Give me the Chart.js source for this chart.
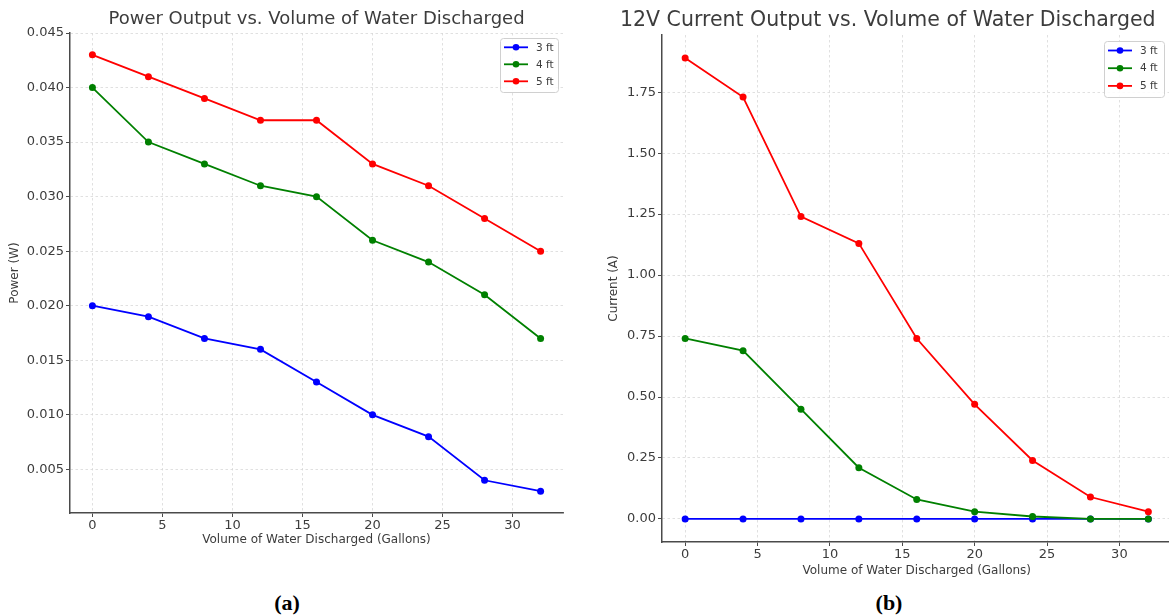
<!DOCTYPE html>
<html>
<head>
<meta charset="utf-8">
<script src="https://cdn.jsdelivr.net/npm/chart.js@4.4.0/dist/chart.umd.min.js"></script>
<style>
  html, body { margin: 0; padding: 0; background: #fff; overflow: hidden; width: 1169px; height: 616px; }
  .wrap { position: absolute; top: 0; }
  .cap { position: absolute; top: 590px; font-family: "Liberation Serif", "Times New Roman", serif; font-weight: bold; font-size: 22px; color: #000; transform: translateX(-50%); }
</style>
</head>
<body>
<div class="wrap" style="left:0px;width:633px;height:560px"><canvas id="powerChart"></canvas></div>
<div class="wrap" style="left:590px;width:596px;height:590px"><canvas id="currentChart"></canvas></div>
<div class="cap" style="left:287px">(a)</div>
<div class="cap" style="left:889px">(b)</div>
<script>
// gallons discharged
const gallons = [0, 4, 8, 12, 16, 20, 24, 28, 32];
const seriesLabels = ['3 ft', '4 ft', '5 ft'];
const seriesColors = ['#0000ff', '#008000', '#ff0000'];

// power (W)
const power3 = [0.020, 0.019, 0.017, 0.016, 0.013, 0.010, 0.008, 0.004, 0.003];
const power4 = [0.040, 0.035, 0.033, 0.031, 0.030, 0.026, 0.024, 0.021, 0.017];
const power5 = [0.043, 0.041, 0.039, 0.037, 0.037, 0.033, 0.031, 0.028, 0.025];

// 12V current (A)
const current3 = [0, 0, 0, 0, 0, 0, 0, 0, 0];
const current4 = [0.74, 0.69, 0.45, 0.21, 0.08, 0.03, 0.01, 0.00, 0.00];
const current5 = [1.89, 1.73, 1.24, 1.13, 0.74, 0.47, 0.24, 0.09, 0.03];

const xTicks = [0, 5, 10, 15, 20, 25, 30];
const powerTicks = [0.005, 0.010, 0.015, 0.020, 0.025, 0.030, 0.035, 0.040, 0.045];
const currentTicks = [0, 0.25, 0.5, 0.75, 1.0, 1.25, 1.5, 1.75];

const FONT = '"DejaVu Sans", sans-serif';
const TXT = '#3c3c3c';
const GRID = '#d8d8d8';
const AXIS = '#4a4a4a';

// little boxed legend drawn inside the plot, top right
const boxLegend = {
  id: 'boxLegend',
  afterDraw(chart, args, o) {
    const { ctx, chartArea } = chart;
    const w = o.width, h = o.height;
    const x0 = chartArea.right - o.insetX - w;
    const y0 = chartArea.top + o.insetY;
    ctx.save();
    ctx.fillStyle = 'rgba(255,255,255,0.85)';
    ctx.strokeStyle = '#d0d0d0';
    ctx.lineWidth = 1;
    ctx.beginPath();
    ctx.roundRect(x0 + 0.5, y0 + 0.5, w, h, 3);
    ctx.fill();
    ctx.stroke();
    ctx.font = '10.5px ' + FONT;
    ctx.textBaseline = 'middle';
    seriesLabels.forEach((lab, i) => {
      const y = y0 + o.first + i * o.row;
      ctx.strokeStyle = seriesColors[i];
      ctx.lineWidth = 1.8;
      ctx.beginPath();
      ctx.moveTo(x0 + 4, y);
      ctx.lineTo(x0 + 28, y);
      ctx.stroke();
      ctx.fillStyle = seriesColors[i];
      ctx.beginPath();
      ctx.arc(x0 + 16, y, 3.3, 0, Math.PI * 2);
      ctx.fill();
      ctx.fillStyle = TXT;
      ctx.fillText(lab, x0 + 36, y + 0.5);
    });
    ctx.restore();
  }
};

function makeSets(list) {
  return list.map((vals, i) => ({
    label: seriesLabels[i],
    data: gallons.map((g, k) => ({ x: g, y: vals[k] })),
    borderColor: seriesColors[i],
    backgroundColor: seriesColors[i],
    borderWidth: 1.8,
    pointRadius: 3.5,
    pointBorderWidth: 0,
    pointHoverRadius: 3.5,
    order: 2 - i
  }));
}

function makeChart(id, cfg) {
  return new Chart(document.getElementById(id), {
    type: 'line',
    data: { datasets: makeSets(cfg.series) },
    plugins: [boxLegend],
    options: {
      responsive: true,
      maintainAspectRatio: false,
      animation: false,
      layout: { padding: { left: cfg.padLeft, right: cfg.padRight, top: 0, bottom: 0 } },
      plugins: {
        legend: { display: false },
        tooltip: { enabled: false },
        title: {
          display: true,
          fullSize: cfg.titleFull,
          text: cfg.title,
          color: TXT,
          font: { family: FONT, size: cfg.titleSize, weight: 'normal' },
          padding: cfg.titlePad
        },
        boxLegend: cfg.legend
      },
      scales: {
        x: {
          type: 'linear',
          min: -1.6,
          max: 33.6,
          afterBuildTicks: s => { s.ticks = xTicks.map(v => ({ value: v })); },
          afterFit: s => { s.height = cfg.xHeight; },
          ticks: { color: TXT, font: { family: FONT, size: 13 }, padding: 1, maxRotation: 0, callback: v => String(v) },
          grid: { color: GRID, lineWidth: 0.8, tickColor: AXIS, tickLength: 4, tickWidth: 1, tickBorderDash: [] },
          border: { color: AXIS, width: 1.5, dash: [2.5, 2.5] },
          title: { display: true, text: 'Volume of Water Discharged (Gallons)', color: TXT, font: { family: FONT, size: 12 }, padding: { top: 0, bottom: cfg.xTitlePad } }
        },
        y: {
          min: cfg.yMin,
          max: cfg.yMax,
          afterBuildTicks: s => { s.ticks = cfg.yTicks.map(v => ({ value: v })); },
          afterFit: s => { s.width = cfg.yWidth; },
          ticks: { color: TXT, font: { family: FONT, size: 13 }, padding: 2, callback: v => v.toFixed(cfg.dec) },
          grid: { color: GRID, lineWidth: 0.8, tickColor: AXIS, tickLength: 4, tickWidth: 1, tickBorderDash: [] },
          border: { color: AXIS, width: 1.5, dash: [2.5, 2.5] },
          title: { display: true, text: cfg.yTitle, color: TXT, font: { family: FONT, size: 12 }, padding: { top: cfg.yTitlePad, bottom: 0 } }
        }
      }
    }
  });
}

makeChart('powerChart', {
  series: [power3, power4, power5],
  title: 'Power Output vs. Volume of Water Discharged',
  titleFull: false,
  titleSize: 18,
  titlePad: { top: 8.7, bottom: 2.7 },
  padLeft: 0,
  padRight: 70,
  xHeight: 47,
  xTitlePad: 12.8,
  yWidth: 70,
  yMin: 0.001,
  yMax: 0.045,
  yTicks: powerTicks,
  dec: 3,
  yTitle: 'Power (W)',
  yTitlePad: 7.8,
  legend: { width: 58, height: 54, insetX: 5, insetY: 5, first: 9.3, row: 17 }
});

makeChart('currentChart', {
  series: [current3, current4, current5],
  title: '12V Current Output vs. Volume of Water Discharged',
  titleFull: true,
  titleSize: 20.5,
  titlePad: { top: 8.7, bottom: 1.7 },
  padLeft: 14,
  padRight: 14.5,
  xHeight: 48,
  xTitlePad: 11.8,
  yWidth: 58,
  yMin: -0.0945,
  yMax: 1.9845,
  yTicks: currentTicks,
  dec: 2,
  yTitle: 'Current (A)',
  yTitlePad: 2.8,
  legend: { width: 60, height: 56, insetX: 7.5, insetY: 6, first: 9.5, row: 17.7 }
});
</script>
</body>
</html>
